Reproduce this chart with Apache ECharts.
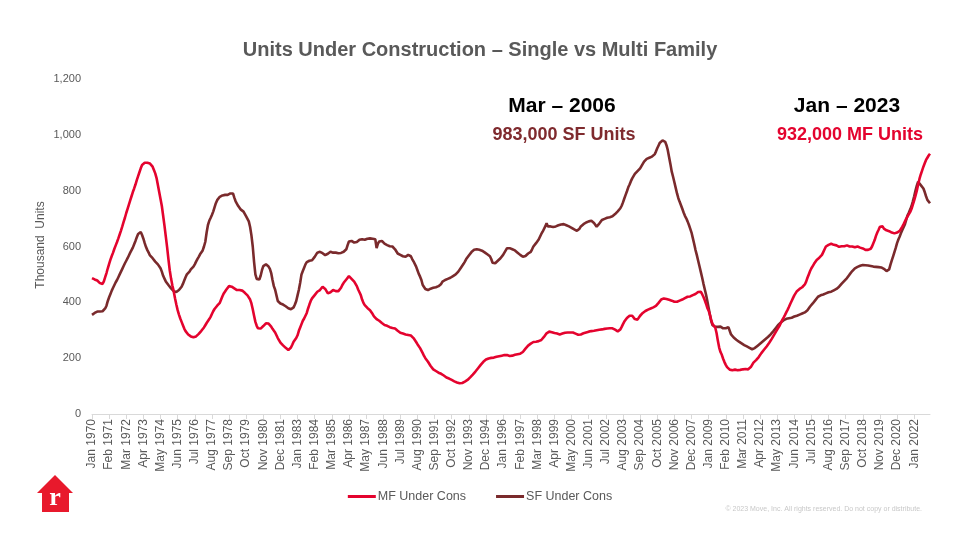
<!DOCTYPE html>
<html>
<head>
<meta charset="utf-8">
<script src="https://cdn.jsdelivr.net/npm/echarts@6/dist/echarts.min.js"></script>
<style>
html,body{margin:0;padding:0;background:#fff;}
#chart{width:960px;height:540px;}
</style>
</head>
<body>
<div id="chart"></div>
<script>
// Month names and years for the category labels
var monthNames = ['Jan','Feb','Mar','Apr','May','Jun','Jul','Aug','Sep','Oct','Nov','Dec'];
var firstYear = 1970;

// Multi-family units under construction (thousands), monthly Jan 1970 – Jan 2023
var mfUnderCons = [
  487,485,482,480,478,474,469,464,466,475,490,505, // 1970
  522,538,553,566,578,592,604,616,629,643,657,672, // 1971
  688,703,720,735,750,765,780,795,808,822,838,852, // 1972
  866,880,892,898,900,902,900,899,897,893,886,874, // 1973
  862,845,820,795,770,745,710,675,636,598,555,515, // 1974
  485,460,440,415,392,372,356,342,330,318,306,297, // 1975
  290,285,281,278,276,275,276,278,282,287,293,298, // 1976
  304,310,318,326,333,340,348,358,368,376,382,388, // 1977
  392,398,410,422,432,438,446,452,458,460,456,452, // 1978
  450,446,444,442,444,445,442,438,434,430,425,420, // 1979
  410,396,375,352,330,316,307,305,306,310,315,320, // 1980
  325,326,324,320,313,305,298,292,282,272,264,256, // 1981
  250,246,242,237,233,229,230,238,248,259,266,272, // 1982
  282,298,310,322,334,342,349,362,378,392,405,414, // 1983
  420,426,432,438,442,444,450,456,455,448,440,432, // 1984
  432,436,440,444,444,440,438,440,445,452,462,470, // 1985
  474,482,488,494,490,484,478,474,468,458,446,436, // 1986
  426,410,398,390,385,380,376,372,365,358,350,344, // 1987
  340,337,334,330,326,322,319,318,316,313,311,309, // 1988
  308,307,306,302,298,294,291,289,288,286,285,284, // 1989
  283,283,281,277,272,265,258,250,244,236,229,218, // 1990
  208,200,194,187,180,172,166,160,158,154,150,148, // 1991
  146,144,141,138,134,131,129,127,124,122,120,117, // 1992
  115,113,112,110,110,111,113,116,119,122,126,131, // 1993
  136,141,146,152,158,164,170,176,182,187,191,195, // 1994
  197,199,200,201,202,202,203,205,206,207,208,209, // 1995
  210,211,212,211,210,208,208,209,211,212,213,214, // 1996
  215,216,218,222,228,234,240,245,248,252,256,258, // 1997
  258,259,260,261,263,265,270,276,283,289,293,295, // 1998
  295,293,291,290,289,288,286,285,285,288,290,291, // 1999
  292,292,291,292,293,292,290,288,286,284,283,285, // 2000
  287,289,291,292,294,295,296,297,298,298,299,300, // 2001
  301,302,302,303,304,305,306,306,307,307,307,307, // 2002
  306,302,298,296,297,303,312,322,331,338,344,348, // 2003
  352,355,352,346,340,337,338,345,352,358,362,366, // 2004
  369,372,374,376,378,380,382,384,387,392,398,404, // 2005
  410,413,414,414,412,410,409,408,406,404,402,402, // 2006
  402,404,406,408,410,412,415,418,420,422,421,424, // 2007
  426,428,430,434,437,440,438,430,420,408,395,380, // 2008
  370,355,335,322,316,310,290,262,238,222,212,198, // 2009
  186,176,168,162,159,158,157,158,159,158,157,158, // 2010
  158,159,160,160,161,160,160,163,168,176,184,190, // 2011
  193,198,204,211,218,224,230,236,242,248,255,262, // 2012
  270,278,286,294,302,307,318,328,338,346,355,365, // 2013
  374,384,395,405,415,425,432,440,445,448,452,454, // 2014
  456,464,474,488,500,512,522,530,538,545,552,558, // 2015
  560,563,570,580,590,600,604,606,608,610,609,606, // 2016
  608,604,600,599,600,601,599,601,603,604,602,600, // 2017
  602,600,598,597,598,600,598,596,597,593,590,588, // 2018
  590,588,587,592,600,612,623,638,650,660,671,668, // 2019
  672,664,660,658,659,655,652,650,648,647,647,650, // 2020
  652,656,662,671,680,690,700,708,716,724,735,750, // 2021
  765,782,800,822,842,858,872,886,898,910,918,926, // 2022
  932                                              // 2023
];

// Single-family units under construction (thousands), monthly Jan 1970 – Jan 2023
var sfUnderCons = [
  355,358,362,365,367,368,367,366,368,372,378,388, // 1970
  405,418,430,442,452,462,472,480,490,500,510,520, // 1971
  530,540,549,558,568,578,587,596,608,620,633,645, // 1972
  650,652,641,628,612,598,587,578,568,563,558,552, // 1973
  546,542,536,530,522,510,495,485,475,468,462,456, // 1974
  450,445,440,438,437,440,444,448,456,466,478,490, // 1975
  500,504,510,518,524,528,536,546,555,563,572,578, // 1976
  586,600,617,650,677,692,702,713,725,740,755,766, // 1977
  772,778,781,783,784,785,786,785,786,790,794,790, // 1978
  775,762,755,745,738,732,728,725,718,708,701,690, // 1979
  670,640,600,545,500,484,480,482,495,515,530,534, // 1980
  536,534,528,520,505,480,458,445,425,405,398,396, // 1981
  394,392,390,386,382,379,377,375,377,382,392,405, // 1982
  425,445,470,500,512,524,536,544,548,549,550,551, // 1983
  557,563,570,578,581,581,580,576,572,569,569,574, // 1984
  578,581,580,578,575,578,580,576,575,577,579,581, // 1985
  581,590,605,618,623,620,617,614,614,616,620,624, // 1986
  624,626,626,624,626,628,630,629,628,628,629,626, // 1987
  594,610,618,623,620,614,610,607,605,603,601,600, // 1988
  600,596,590,584,575,572,570,567,565,563,563,568, // 1989
  570,572,565,555,547,540,528,515,502,492,480,462, // 1990
  455,448,442,444,447,449,450,452,453,454,456,458, // 1991
  462,466,474,478,480,482,484,486,488,490,494,498, // 1992
  500,505,510,517,524,530,538,546,555,561,568,575, // 1993
  580,585,588,590,590,589,588,587,585,582,579,575, // 1994
  572,570,565,555,542,537,540,545,549,552,558,565, // 1995
  570,578,586,594,596,594,592,590,588,586,582,578, // 1996
  575,570,566,563,563,566,570,575,578,581,590,600, // 1997
  606,612,617,625,635,645,653,660,672,683,672,671, // 1998
  672,671,670,671,672,674,676,678,679,680,680,678, // 1999
  676,674,672,670,667,664,661,659,656,658,664,672, // 2000
  676,680,683,686,688,690,692,692,688,684,678,671, // 2001
  676,682,688,695,697,699,701,703,704,705,707,708, // 2002
  712,716,720,726,731,737,746,758,772,785,798,812, // 2003
  822,834,844,852,860,866,870,874,880,888,896,904, // 2004
  910,914,916,918,920,922,922,930,940,952,962,972, // 2005
  978,980,983,975,963,945,920,895,868,850,830,810, // 2006
  790,773,760,748,735,722,710,701,690,678,664,650, // 2007
  630,610,588,570,550,530,510,490,468,448,428,405, // 2008
  380,355,332,318,313,312,310,312,313,313,310,307, // 2009
  306,307,309,311,305,285,278,274,270,266,262,259, // 2010
  256,253,250,247,245,242,240,237,235,232,234,236, // 2011
  240,244,248,252,256,260,264,268,272,276,280,285, // 2012
  290,296,302,308,314,320,325,329,333,336,339,341, // 2013
  342,343,343,345,347,349,350,352,354,356,358,360, // 2014
  361,364,368,372,378,385,390,396,402,408,414,420, // 2015
  423,425,426,428,430,432,434,436,437,438,440,443, // 2016
  445,448,452,456,462,467,472,477,482,487,492,500, // 2017
  506,512,518,522,525,527,529,531,533,534,534,533, // 2018
  534,532,531,530,529,528,528,527,526,526,525,525, // 2019
  522,520,516,512,510,518,535,550,565,580,595,612, // 2020
  625,636,648,659,666,680,696,712,722,733,745,762, // 2021
  780,800,818,832,828,820,814,808,795,780,767,760, // 2022
  755                                              // 2023
];

var yTicks = [0, 200, 400, 600, 800, 1000, 1200];

// Category labels "Jan 1970" ... one per month
var categories = [];
for (var i = 0; i < mfUnderCons.length; i++) {
  categories.push(monthNames[i % 12] + ' ' + (firstYear + Math.floor(i / 12)));
}

var FONT = '"Liberation Sans", Arial, sans-serif';
var MF_COLOR = '#e4032e';
var SF_COLOR = '#7a2a2c';

var chart = echarts.init(document.getElementById('chart'), null, {renderer: 'canvas'});
chart.setOption({
  backgroundColor: '#ffffff',
  animation: false,
  textStyle: {fontFamily: FONT},
  title: {
    text: 'Units Under Construction \u2013 Single vs Multi Family',
    left: 'center',
    top: 35,
    textStyle: {fontFamily: FONT, fontSize: 20, fontWeight: 'bold', color: '#595959'}
  },
  grid: {left: 92, right: 30, top: 79, bottom: 126, containLabel: false},
  legend: {
    left: 'center',
    top: 485,
    itemGap: 30,
    itemWidth: 28,
    itemHeight: 3,
    icon: 'rect',
    textStyle: {fontFamily: FONT, fontSize: 12.5, color: '#595959', padding: [0, 0, 0, -3]},
    data: ['MF Under Cons', 'SF Under Cons']
  },
  xAxis: {
    type: 'category',
    data: categories,
    boundaryGap: false,
    axisLine: {lineStyle: {color: '#d9d9d9', width: 1}},
    axisTick: {show: true, interval: 12, length: 5, lineStyle: {color: '#d9d9d9'}},
    axisLabel: {
      interval: 12,
      rotate: 90,
      fontFamily: FONT,
      fontSize: 12,
      color: '#595959',
      margin: 5
    },
    splitLine: {show: false}
  },
  yAxis: {
    type: 'value',
    min: yTicks[0],
    max: yTicks[yTicks.length - 1],
    interval: 200,
    axisLine: {show: false},
    axisTick: {show: false},
    splitLine: {show: false},
    axisLabel: {
      fontFamily: FONT,
      fontSize: 11,
      color: '#595959',
      margin: 11,
      formatter: function (v) { return v.toLocaleString('en-US'); }
    }
  },
  series: [
    {
      name: 'MF Under Cons',
      type: 'line',
      data: mfUnderCons,
      showSymbol: false,
      symbol: 'none',
      lineStyle: {color: MF_COLOR, width: 2.6},
      itemStyle: {color: MF_COLOR},
      z: 3
    },
    {
      name: 'SF Under Cons',
      type: 'line',
      data: sfUnderCons,
      showSymbol: false,
      symbol: 'none',
      lineStyle: {color: SF_COLOR, width: 2.6},
      itemStyle: {color: SF_COLOR},
      z: 2
    }
  ],
  graphic: [
    {type: 'text', x: 41, y: 245, rotation: Math.PI / 2, style: {text: 'Thousand  Units', font: '12px ' + FONT, fill: '#595959', textAlign: 'center', textVerticalAlign: 'middle'}},
    {type: 'text', x: 562, y: 106, style: {text: 'Mar \u2013 2006', font: 'bold 21px ' + FONT, fill: '#000000', textAlign: 'center', textVerticalAlign: 'middle'}},
    {type: 'text', x: 564, y: 135, style: {text: '983,000 SF Units', font: 'bold 18px ' + FONT, fill: '#7f2a2e', textAlign: 'center', textVerticalAlign: 'middle'}},
    {type: 'text', x: 847, y: 106, style: {text: 'Jan \u2013 2023', font: 'bold 21px ' + FONT, fill: '#000000', textAlign: 'center', textVerticalAlign: 'middle'}},
    {type: 'text', x: 850, y: 135, style: {text: '932,000 MF Units', font: 'bold 18px ' + FONT, fill: '#e4032e', textAlign: 'center', textVerticalAlign: 'middle'}},
    {type: 'polygon', shape: {points: [[37,493],[55,475],[73,493],[69,493],[69,512],[42,512],[42,493]]}, style: {fill: '#e8192c'}},
    {type: 'text', x: 55, y: 498, style: {text: 'r', font: 'bold 26px "Liberation Serif", "DejaVu Serif", serif', fill: '#ffffff', textAlign: 'center', textVerticalAlign: 'middle'}},
    {type: 'text', x: 922, y: 509, style: {text: '\u00a9 2023 Move, Inc. All rights reserved. Do not copy or distribute.', font: '7px ' + FONT, fill: '#c8c8c8', textAlign: 'right', textVerticalAlign: 'middle'}}
  ]
});
</script>
</body>
</html>
